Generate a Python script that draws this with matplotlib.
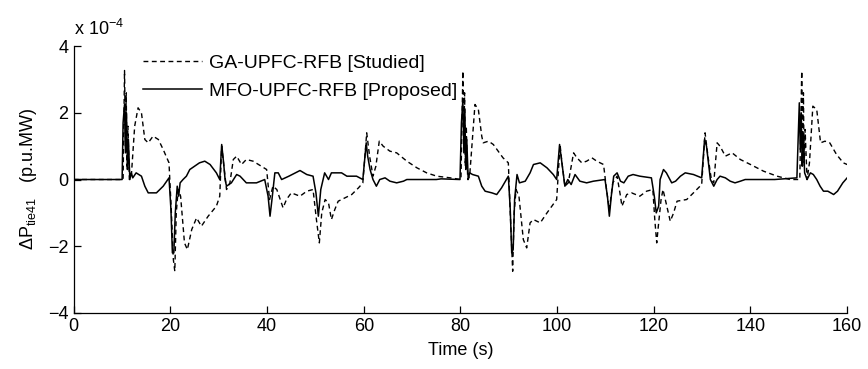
import numpy as np
import matplotlib
matplotlib.use('Agg')
import matplotlib.pyplot as plt

"""
tie-line power deviation dP_tie41, GA vs MFO tuned UPFC-RFB
"""

plt.rcParams['font.family'] = ['Liberation Sans', 'DejaVu Sans']
plt.rcParams['mathtext.fontset'] = 'custom'
plt.rcParams['mathtext.rm'] = 'Liberation Sans'
plt.rcParams['mathtext.it'] = 'Liberation Sans:italic'

# values, in units of 1e-4 p.u.MW
ga_t = [0, 10.2, 10.5, 10.7, 10.85, 11.0, 11.2, 11.5, 11.9, 12.6, 13.3, 14.0, 14.7, 15.4,
        16.4, 17.5, 18.5, 19.7, 20.2, 20.6, 20.9, 21.2, 21.6, 22.1, 22.9, 23.5, 24.4, 25.4,
        26.4, 27.8, 29.5, 30.2, 30.6, 30.9, 31.6, 32.3, 33.0, 33.7, 34.7, 35.7, 37.1, 38.8,
        39.9, 40.5, 41.2, 42.0, 43.3, 44.0, 45.0, 46.8, 48.2, 49.5, 50.2, 50.8, 51.3, 52.0,
        52.7, 53.3, 54.0, 54.7, 56.1, 57.5, 58.9, 59.8, 60.6, 61.2, 61.9, 62.5, 63.2, 64.0,
        65.4, 66.8, 68.9, 71.0, 73.0, 75.1, 77.9, 80.1, 80.5, 80.7, 80.85, 81.0, 81.2, 81.5,
        81.9, 83.0, 83.7, 84.4, 84.7, 85.8, 86.8, 87.8, 88.8, 89.9, 90.3, 90.8, 91.1, 91.5,
        92.1, 93.0, 93.7, 94.4, 95.1, 96.5, 97.9, 98.9, 99.9, 100.6, 101.0, 101.6, 102.3,
        103.4, 104.1, 105.1, 106.1, 107.2, 108.2, 109.6, 110.3, 110.8, 111.5, 112.4, 113.1,
        113.4, 114.4, 115.4, 117.1, 118.5, 119.8, 120.2, 120.6, 121.0, 121.5, 121.9, 122.7,
        123.4, 124.1, 124.8, 126.8, 128.2, 129.9, 130.6, 131.2, 131.9, 132.4, 133.1, 133.7,
        134.8, 136.2, 137.9, 140.0, 142.7, 145.5, 148.2, 150.2, 150.6, 150.8, 150.95, 151.1,
        151.3, 151.7, 152.2, 152.9, 153.7, 154.5, 155.4, 156.4, 157.8, 159.2, 160]
ga_v = [0, 0, 3.27, 1.0, 2.6, 0.4, 1.6, 0.0, 0.1, 1.6, 2.15, 2.0, 1.2, 1.1,
        1.3, 1.2, 0.9, 0.5, -1.0, -2.4, -2.75, -1.0, -0.3, -0.5, -1.9, -2.1, -1.5, -1.15,
        -1.4, -1.1, -0.8, -0.5, 1.0, 0.6, -0.3, -0.1, 0.6, 0.7, 0.45, 0.6, 0.55, 0.4,
        0.3, -0.6, -0.2, -0.3, -0.85, -0.6, -0.4, -0.5, -0.35, -0.3, -1.2, -1.9, -1.0, -0.6,
        -0.7, -1.2, -0.9, -0.65, -0.55, -0.45, -0.25, -0.1, 1.4, 0.7, 0.1, 0.4, 1.15, 1.0,
        0.85, 0.8, 0.55, 0.35, 0.2, 0.1, 0.05, 0.0, 3.25, 1.0, 2.6, 0.4, 1.6, 0.0,
        0.1, 2.25, 2.1, 1.3, 1.1, 1.15, 1.05, 0.85, 0.65, 0.5, -1.0, -2.75, -1.0, -0.3,
        -0.5, -1.8, -2.05, -1.3, -1.2, -1.3, -1.0, -0.8, -0.6, 1.05, 0.5, -0.2, -0.1,
        0.8, 0.65, 0.5, 0.55, 0.65, 0.55, 0.45, -0.4, -0.9, -0.1, 0.1, -0.5,
        -0.8, -0.45, -0.4, -0.5, -0.35, -0.3, -1.2, -1.9, -1.3, -0.6, -0.3, -0.8,
        -1.25, -1.0, -0.65, -0.6, -0.4, -0.15, 1.4, 0.7, 0.0, -0.1, 1.1, 1.0,
        0.7, 0.8, 0.6, 0.45, 0.25, 0.1, 0.0, 0.0, 3.25, 1.0, 2.6, 0.4,
        1.5, 0.0, 0.5, 2.2, 2.1, 1.1, 1.15, 1.1, 0.75, 0.5, 0.45]

mfo_t = [0, 10.0, 10.2, 10.5, 10.7, 10.9, 11.1, 11.3, 11.6, 11.9, 12.2, 12.9, 14.0, 14.7,
         15.4, 17.1, 18.5, 19.7, 20.1, 20.4, 20.7, 21.0, 21.4, 21.7, 22.0, 22.6, 23.3, 24.0,
         25.0, 26.0, 27.1, 28.2, 29.5, 30.2, 30.6, 31.0, 31.3, 31.6, 32.6, 33.7, 34.4, 35.7,
         37.8, 39.5, 40.2, 40.6, 41.0, 41.6, 42.3, 43.0, 44.5, 46.8, 48.2, 49.5, 50.1, 50.6,
         51.1, 51.9, 52.7, 53.3, 55.4, 56.5, 58.5, 59.8, 60.5, 60.8, 61.3, 61.9, 62.6, 63.3,
         64.4, 65.4, 66.8, 68.2, 68.9, 75.0, 76.0, 79.9, 80.2, 80.5, 80.7, 80.9, 81.1, 81.3,
         81.6, 81.9, 82.5, 83.7, 84.4, 85.1, 86.5, 87.5, 88.5, 89.9, 90.3, 90.6, 90.9, 91.2,
         91.7, 92.2, 93.4, 94.4, 95.1, 96.5, 97.9, 99.2, 99.9, 100.5, 100.9, 101.6, 102.2,
         102.9, 103.7, 104.7, 106.1, 107.5, 109.9, 110.4, 110.8, 111.2, 111.7, 112.4, 113.1,
         113.8, 114.7, 115.7, 117.1, 119.5, 120.1, 120.5, 121.0, 121.3, 122.0, 122.6, 123.7,
         124.5, 125.5, 126.5, 128.2, 129.9, 130.5, 130.9, 131.7, 132.4, 133.1, 133.7, 134.8,
         135.8, 136.8, 137.9, 138.9, 145.0, 149.6, 150.1, 150.3, 150.5, 150.7, 150.9, 151.2,
         151.7, 152.4, 153.0, 153.7, 154.4, 155.1, 156.0, 157.2, 158.0, 159.1, 160]
mfo_v = [0, 0, 1.7, 2.25, 0.8, 2.0, 0.3, 1.2, 0.0, 0.2, 0.05, 0.2, 0.1, -0.2,
         -0.4, -0.4, -0.2, 0.05, -0.9, -2.2, -2.2, -1.0, -0.2, -0.5, -0.1, 0.0, 0.1, 0.3,
         0.4, 0.5, 0.55, 0.45, 0.2, 0.0, 1.05, 0.5, 0.0, -0.2, -0.1, 0.15, 0.1, -0.1,
         -0.1, 0.0, -0.5, -1.1, -0.6, 0.2, 0.2, 0.0, 0.1, 0.27, 0.15, 0.1, -0.4, -1.1,
         -0.3, 0.2, 0.0, 0.2, 0.2, 0.1, 0.1, 0.0, 1.1, 0.7, 0.3, 0.0, -0.2, 0.0,
         0.05, -0.05, -0.1, -0.05, 0.0, 0.0, 0.02, 0.0, 1.7, 2.4, 0.8, 2.1, 0.3, 1.2,
         0.0, 0.2, 0.15, 0.1, -0.2, -0.35, -0.4, -0.45, -0.25, 0.1, -0.9, -2.2, -2.1, -0.6,
         0.15, -0.1, -0.05, 0.2, 0.45, 0.5, 0.35, 0.15, 0.0, 1.05, 0.6, -0.2, 0.0,
         -0.15, 0.15, -0.05, -0.1, -0.05, 0.0, -0.5, -1.1, -0.5, 0.1, 0.2, -0.05,
         -0.1, 0.1, 0.15, 0.1, 0.05, -0.5, -1.0, -0.8, 0.0, 0.3, 0.2, -0.1,
         -0.05, 0.1, 0.2, 0.15, 0.05, 1.2, 1.0, 0.0, -0.2, 0.0, 0.1, 0.05,
         -0.05, -0.1, -0.05, 0.0, 0.0, 0.05, 2.3, 0.9, 2.0, 0.4, 1.3, 0.2,
         0.0, 0.2, 0.15, 0.0, -0.2, -0.35, -0.35, -0.45, -0.35, -0.1, 0.05]

labels = ['GA-UPFC-RFB [Studied]', 'MFO-UPFC-RFB [Proposed]']
xticks = [0, 20, 40, 60, 80, 100, 120, 140, 160]
yticks = [-4, -2, 0, 2, 4]

fig = plt.figure(figsize=(8.68, 3.69), dpi=100)
ax = fig.add_axes([0.085, 0.152, 0.891, 0.723])

ax.plot(ga_t, ga_v, color='black', lw=1.0, ls=(0, (3.5, 2.5)), label=labels[0])
ax.plot(mfo_t, mfo_v, color='black', lw=1.1, ls='-', label=labels[1])

ax.set_xlim(0, 160)
ax.set_ylim(-4, 4)
ax.set_xticks(xticks)
ax.set_yticks(yticks)
ax.tick_params(direction='in', length=5, width=0.9, labelsize=13, pad=4)
ax.spines['top'].set_visible(False)
ax.spines['right'].set_visible(False)
for s in ['left', 'bottom']:
    ax.spines[s].set_linewidth(0.9)

ax.text(0.0, 1.025, r'x 10$^{-4}$', transform=ax.transAxes, ha='left', va='bottom', fontsize=13)
ax.set_xlabel('Time (s)', fontsize=13, labelpad=5)
ax.set_ylabel(r'$\Delta$P$_{\mathrm{tie41}}$   (p.u.MW)', fontsize=13, labelpad=6)

ax.legend(loc='upper left', bbox_to_anchor=(0.09, 0.97), frameon=False, fontsize=14,
          borderaxespad=0, borderpad=0, handlelength=3.0, handletextpad=0.4, labelspacing=0.55)

fig.savefig('out.png', dpi=100)
